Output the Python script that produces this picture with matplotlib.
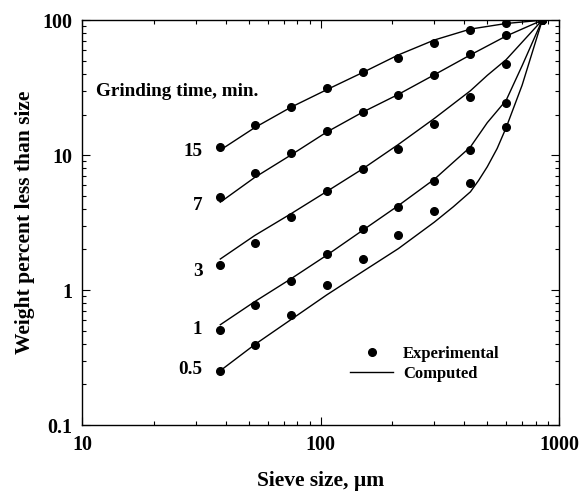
import matplotlib
matplotlib.use("Agg")
import matplotlib.pyplot as plt
from matplotlib.ticker import LogLocator, FixedLocator, NullFormatter, FixedFormatter

plt.rcParams['font.family'] = ['Liberation Serif', 'DejaVu Serif']
plt.rcParams['font.weight'] = 'bold'

# Experimental data: sieve sizes (um) and weight percent less than size
sieve = [38, 53, 75, 106, 150, 212, 300, 425, 600, 850]
exp_15 = [11.4, 16.7, 22.8, 31.2, 41.2, 52.2, 67.3, 83.9, 96.1, 100]
exp_7 = [4.87, 7.36, 10.4, 15.0, 20.9, 27.8, 39.1, 56.2, 78.0, 100]
exp_3 = [1.53, 2.24, 3.47, 5.42, 7.96, 11.2, 16.9, 27.0, 47.2, 100]
exp_1 = [0.503, 0.773, 1.17, 1.85, 2.82, 4.11, 6.46, 10.9, 24.2, 100]
exp_05 = [0.251, 0.393, 0.653, 1.10, 1.70, 2.54, 3.85, 6.18, 16.1, 100]

# Computed curves
comp_x_15 = [38, 53, 75, 106, 150, 212, 300, 425, 600, 850]
comp_15 = [10.9, 16.0, 22.6, 30.5, 40.9, 55.3, 71.3, 85.9, 94.5, 100]
comp_x_7 = [38, 53, 75, 106, 150, 212, 300, 425, 600, 850]
comp_7 = [4.48, 6.84, 10.0, 14.8, 20.8, 28.2, 39.4, 55.3, 76.3, 100]
comp_x_3 = [38, 53, 75, 106, 150, 212, 300, 425, 500, 600, 850]
comp_3 = [1.70, 2.54, 3.67, 5.37, 7.9, 12.0, 18.7, 30.0, 39.0, 51.0, 100]
comp_x_1 = [38, 53, 75, 106, 150, 212, 300, 425, 500, 600, 700, 850]
comp_1 = [0.554, 0.822, 1.21, 1.81, 2.77, 4.23, 6.63, 11.5, 17.4, 25.5, 46.0, 100]
comp_x_05 = [38, 53, 75, 106, 150, 212, 300, 360, 425, 460, 500, 550, 600, 700, 850]
comp_05 = [0.253, 0.395, 0.603, 0.92, 1.37, 2.03, 3.19, 4.14, 5.35, 6.5, 8.2, 11.2, 16.0, 33.0, 100]

series_labels = ["15", "7", "3", "1", "0.5"]
label_y = [10.7, 4.2, 1.37, 0.51, 0.258]

fig = plt.figure(figsize=(5.79, 4.92), dpi=100)
ax = fig.add_axes([0.1416, 0.136, 0.824, 0.823])

exps = [exp_15, exp_7, exp_3, exp_1, exp_05]
comps = [(comp_x_15, comp_15), (comp_x_7, comp_7), (comp_x_3, comp_3),
         (comp_x_1, comp_1), (comp_x_05, comp_05)]

for i, (cx, cy) in enumerate(comps):
    ax.plot(cx, cy, color='black', lw=1.0,
            label='Computed' if i == 0 else None, zorder=2)
for i, ey in enumerate(exps):
    ax.plot(sieve, ey, 'o', color='black', ms=5.5,
            label='Experimental' if i == 0 else None, zorder=3)

ax.set_xscale('log')
ax.set_yscale('log')
ax.set_xlim(10, 1000)
ax.set_ylim(0.1, 100)

ax.xaxis.set_major_locator(FixedLocator([10, 100, 1000]))
ax.xaxis.set_major_formatter(FixedFormatter(['10', '100', '1000']))
ax.yaxis.set_major_locator(FixedLocator([0.1, 1, 10, 100]))
ax.yaxis.set_major_formatter(FixedFormatter(['0.1', '1', '10', '100']))
ax.xaxis.set_minor_locator(LogLocator(base=10, subs=range(2, 10)))
ax.yaxis.set_minor_locator(LogLocator(base=10, subs=range(2, 10)))
ax.xaxis.set_minor_formatter(NullFormatter())
ax.yaxis.set_minor_formatter(NullFormatter())
ax.tick_params(which='both', direction='in', top=True, right=True, width=0.8)
ax.tick_params(which='major', length=6, labelsize=14.5, pad=7)
ax.tick_params(which='minor', length=3)
for lab in ax.get_xticklabels() + ax.get_yticklabels():
    lab.set_fontweight('bold')
for s in ax.spines.values():
    s.set_linewidth(1.0)

ax.set_xlabel('Sieve size, \u00b5m', fontsize=15.5, fontweight='bold', labelpad=12)
ax.set_ylabel('Weight percent less than size', fontsize=15.5, fontweight='bold', labelpad=5)

ax.text(11.5, 29.7, 'Grinding time, min.', fontsize=13.8, fontweight='bold',
        ha='left', va='center')
for lab, y in zip(series_labels, label_y):
    ax.text(32, y, lab, fontsize=13.8, fontweight='bold', ha='right', va='center')

leg = ax.legend(handles=[ax.lines[5], ax.lines[0]], labels=['Experimental', 'Computed'],
                loc='lower left', bbox_to_anchor=(0.53, 0.07), frameon=False,
                prop={'weight': 'bold', 'size': 12}, handlelength=2.6,
                handletextpad=0.6, labelspacing=0.25)

fig.savefig('out.png', dpi=100)
